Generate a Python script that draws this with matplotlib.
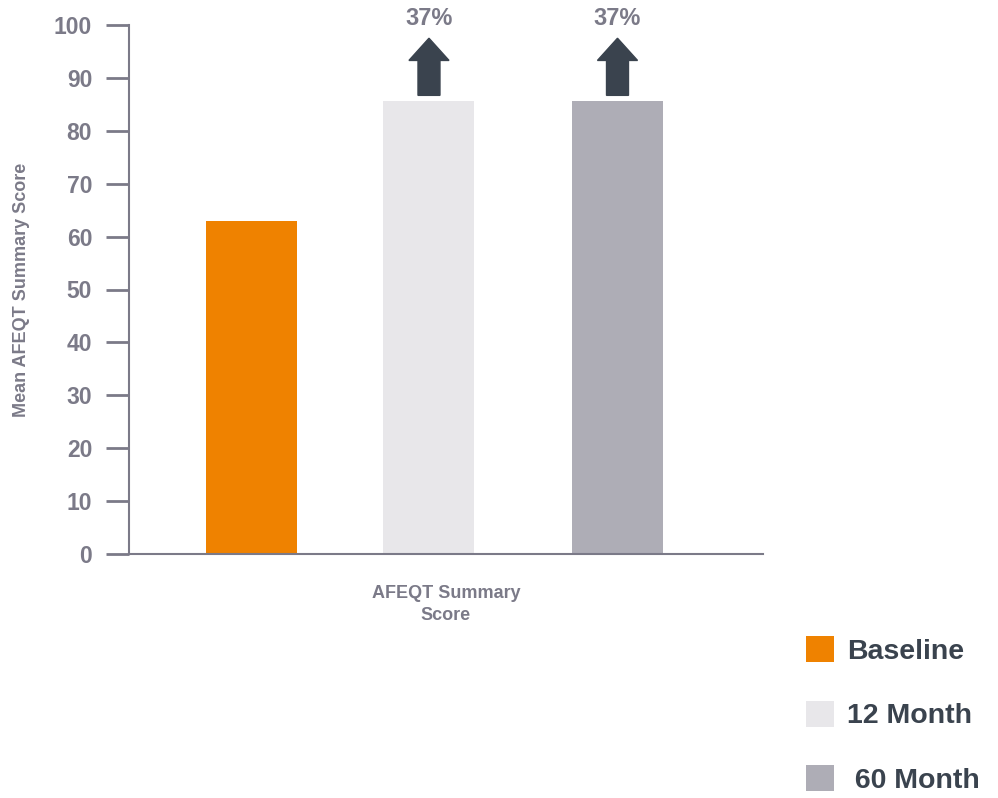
import matplotlib.pyplot as plt
from matplotlib.patches import FancyArrow, Patch

# datos
groups = ["Baseline", "12 Month", "60 Month"]
legend_labels = ["Baseline", "12 Month", " 60 Month"]
scores = [63, 85.6, 85.6]
increase_labels = ["", "37%", "37%"]
colors = ["#EF8200", "#E8E7EA", "#AEADB6"]
yticks = [0, 10, 20, 30, 40, 50, 60, 70, 80, 90, 100]
category = "AFEQT Summary\nScore"

GREY = "#7B7A88"
DARK = "#3A434E"

plt.rcParams["font.family"] = ["Liberation Sans", "DejaVu Sans"]
plt.rcParams["font.weight"] = "bold"

fig = plt.figure(figsize=(9.98, 7.98), dpi=100)
ax = fig.add_axes([129 / 998, 244 / 798, 634 / 998, 529 / 798])

xs = [-1.0, -0.03, 1.0]
bar_w = 0.497
ax.bar(xs, scores, width=bar_w, color=colors, zorder=2)

# flechas de incremento
for x, v, lab in zip(xs, scores, increase_labels):
    if not lab:
        continue
    base = v + 1.1
    length = 10.8
    ax.add_patch(FancyArrow(x, base, 0, length, width=0.12, head_width=0.219,
                            head_length=4.2, length_includes_head=True,
                            color=DARK, clip_on=False, zorder=3))
    ax.text(x, 101.3, lab, ha="center", va="center", fontsize=17,
            color=GREY, fontweight="bold", clip_on=False)

ax.set_xlim(-1.669, 1.795)
ax.set_ylim(0, 100)
ax.set_yticks(yticks, labels=[str(t) for t in yticks], fontweight="bold")
ax.set_xticks([])
ax.tick_params(axis="y", length=16.5, width=2, color=GREY, labelcolor=GREY,
               labelsize=16.5, pad=10)

for s in ["top", "right"]:
    ax.spines[s].set_visible(False)
for s in ["left", "bottom"]:
    ax.spines[s].set_color(GREY)
    ax.spines[s].set_linewidth(1.5)

ax.set_ylabel("Mean AFEQT Summary Score", fontsize=13, color=GREY,
              fontweight="bold")
ax.yaxis.set_label_coords(-0.156, 0.5)

ax.text(0.5, -0.058, category, transform=ax.transAxes, ha="center", va="top",
        fontsize=13, color=GREY, fontweight="bold", linespacing=1.4)

handles = [Patch(facecolor=c, edgecolor="none") for c in colors]
leg = fig.legend(handles, legend_labels, loc="upper left",
                 bbox_to_anchor=(806 / 998, 1 - 636 / 798),
                 bbox_transform=fig.transFigure, frameon=False, borderpad=0,
                 borderaxespad=0, fontsize=20.5, handlelength=1.0,
                 handleheight=1.05, handletextpad=0.45, labelspacing=1.25)
for t in leg.get_texts():
    t.set_color(DARK)
    t.set_fontweight("bold")

fig.savefig("out.png", dpi=100)
